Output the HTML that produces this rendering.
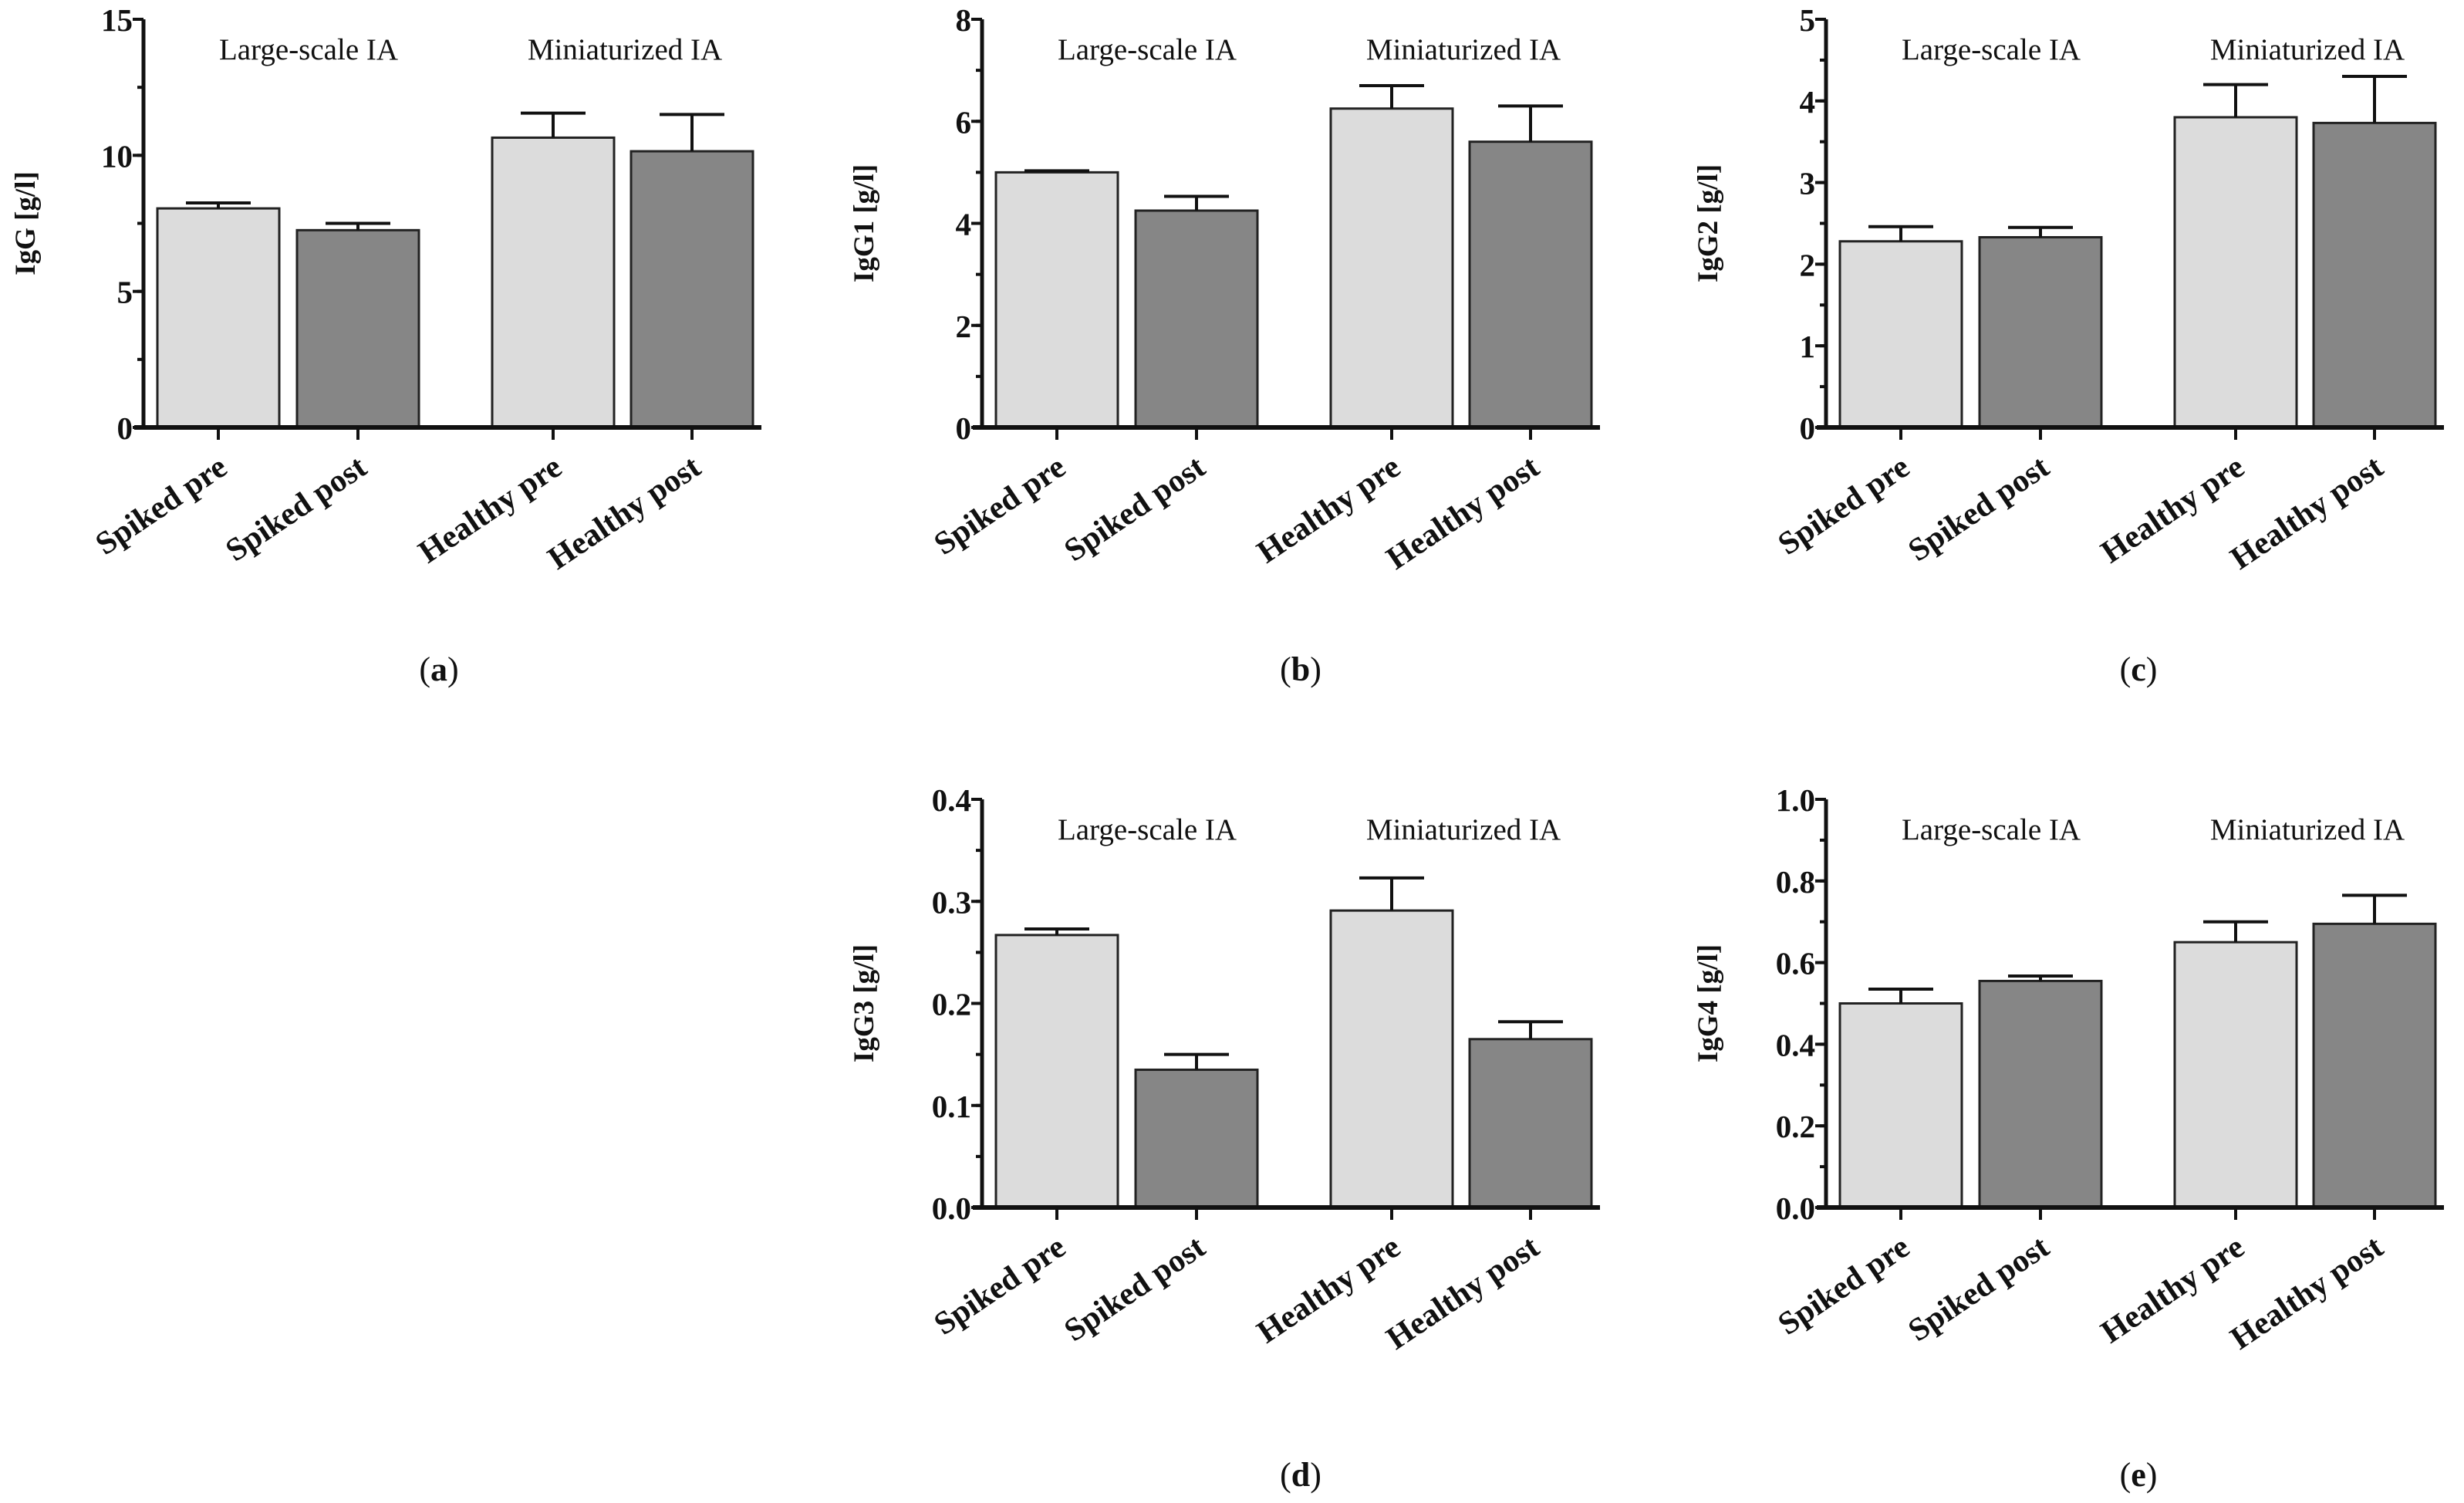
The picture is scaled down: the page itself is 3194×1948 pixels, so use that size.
<!DOCTYPE html>
<html><head><meta charset="utf-8">
<style>
html,body{margin:0;padding:0;background:#fff;}
svg{display:block;}
text{font-family:"Liberation Serif",serif;fill:#111;}
</style></head>
<body>
<svg id="fig" width="3194" height="1948" viewBox="0 0 3194 1948" xmlns="http://www.w3.org/2000/svg"></svg>
<script>
const categories = ["Spiked pre","Spiked post","Healthy pre","Healthy post"];
const groupLabels = ["Large-scale IA","Miniaturized IA"];
const valuesA = [8.05, 7.25, 10.65, 10.15];
const errorsA = [0.2, 0.25, 0.9, 1.35];
const valuesB = [5.0, 4.25, 6.25, 5.6];
const errorsB = [0.03, 0.28, 0.45, 0.7];
const valuesC = [2.28, 2.33, 3.8, 3.73];
const errorsC = [0.18, 0.12, 0.4, 0.57];
const valuesD = [0.267, 0.135, 0.291, 0.165];
const errorsD = [0.006, 0.015, 0.032, 0.017];
const valuesE = [0.5, 0.555, 0.65, 0.695];
const errorsE = [0.035, 0.012, 0.05, 0.07];
const ticksA = ["0","5","10","15"];
const ticksB = ["0","2","4","6","8"];
const ticksC = ["0","1","2","3","4","5"];
const ticksD = ["0.0","0.1","0.2","0.3","0.4"];
const ticksE = ["0.0","0.2","0.4","0.6","0.8","1.0"];
const titles = ["IgG [g/l]","IgG1 [g/l]","IgG2 [g/l]","IgG3 [g/l]","IgG4 [g/l]"];
const panelLetters = ["a","b","c","d","e"];

const NS = "http://www.w3.org/2000/svg";
const svg = document.getElementById("fig");
function mk(tag, attrs, parent, txt){
  const e = document.createElementNS(NS, tag);
  for (const k in attrs) e.setAttribute(k, attrs[k]);
  if (txt !== undefined) e.textContent = txt;
  (parent||svg).appendChild(e);
  return e;
}
const panels = [
  {ax:186, top:25, bot:554, vals:valuesA, errs:errorsA, ticks:ticksA, max:15, minor:2.5, lx:569, ly:882},
  {ax:1273, top:25, bot:554, vals:valuesB, errs:errorsB, ticks:ticksB, max:8, minor:1, lx:1686, ly:882},
  {ax:2367, top:25, bot:554, vals:valuesC, errs:errorsC, ticks:ticksC, max:5, minor:0.5, lx:2772, ly:882},
  {ax:1273, top:1036, bot:1565, vals:valuesD, errs:errorsD, ticks:ticksD, max:0.4, minor:0.05, lx:1686, ly:1926},
  {ax:2367, top:1036, bot:1565, vals:valuesE, errs:errorsE, ticks:ticksE, max:1.0, minor:0.1, lx:2772, ly:1926}
];
const barOff = [18, 199, 452, 632];
const barW = 158;
panels.forEach((p, pi) => {
  const g = mk("g", {}, svg);
  
  
  const y = v => p.bot - v / p.max * (p.bot - p.top);
  p.vals.forEach((v, i) => {
    const x0 = p.ax + barOff[i];
    const r = mk("rect", {x:x0, y:y(v), width:barW, height:p.bot - y(v), fill: i%2===0 ? "#dcdcdc" : "#868686", stroke:"#222", "stroke-width":3}, g);
    
    
    const cx = x0 + barW/2;
    const top = y(v + p.errs[i]);
    const eb = mk("path", {d:`M${cx} ${y(v)} V${top} M${cx-42} ${top} H${cx+42}`, stroke:"#111", "stroke-width":4, fill:"none"}, g);
    
    
    mk("line", {x1:cx, y1:p.bot, x2:cx, y2:p.bot+16, stroke:"#111", "stroke-width":4}, g);
    const t = mk("text", {x:cx+14, y:p.bot+58, "text-anchor":"end", "font-size":42, "font-weight":"bold", transform:`rotate(-34 ${cx+14} ${p.bot+58})`}, g, categories[i]);
    
    
  });
  const ya = mk("line", {x1:p.ax, y1:p.top, x2:p.ax, y2:p.bot+2, stroke:"#111", "stroke-width":5}, g);
  
  
  const xa = mk("line", {x1:p.ax-12, y1:p.bot, x2:p.ax+801, y2:p.bot, stroke:"#111", "stroke-width":6}, g);
  
  
  const nMinor = Math.round(p.max / p.minor);
  for (let k = 0; k <= nMinor; k++) {
    mk("line", {x1:p.ax-8, y1:y(k*p.minor), x2:p.ax, y2:y(k*p.minor), stroke:"#111", "stroke-width":4}, g);
  }
  const step = p.max / (p.ticks.length - 1);
  p.ticks.forEach((lab, k) => {
    const yy = y(k*step);
    mk("line", {x1:p.ax-14, y1:yy, x2:p.ax, y2:yy, stroke:"#111", "stroke-width":4}, g);
    const t = mk("text", {x:p.ax-14, y:yy+15, "text-anchor":"end", "font-size":41, "font-weight":"bold"}, g, lab);
    
    
  });
  const ty = (p.top + p.bot)/2;
  const yt = mk("text", {x:p.ax-141, y:ty, "text-anchor":"middle", "font-size":37, "font-weight":"bold", transform:`rotate(-90 ${p.ax-141} ${ty})`}, g, titles[pi]);
  
  
  const g1 = mk("text", {x:p.ax+214, y:p.top+52, "text-anchor":"middle", "font-size":39}, g, groupLabels[0]);
  
  
  const g2 = mk("text", {x:p.ax+624, y:p.top+52, "text-anchor":"middle", "font-size":39}, g, groupLabels[1]);
  
  
  const pl = mk("text", {x:p.lx, y:p.ly, "text-anchor":"middle", "font-size":44}, g);
  
  
  mk("tspan", {}, pl, "(");
  mk("tspan", {"font-weight":"bold"}, pl, panelLetters[pi]);
  mk("tspan", {}, pl, ")");
});
</script>
</body></html>
